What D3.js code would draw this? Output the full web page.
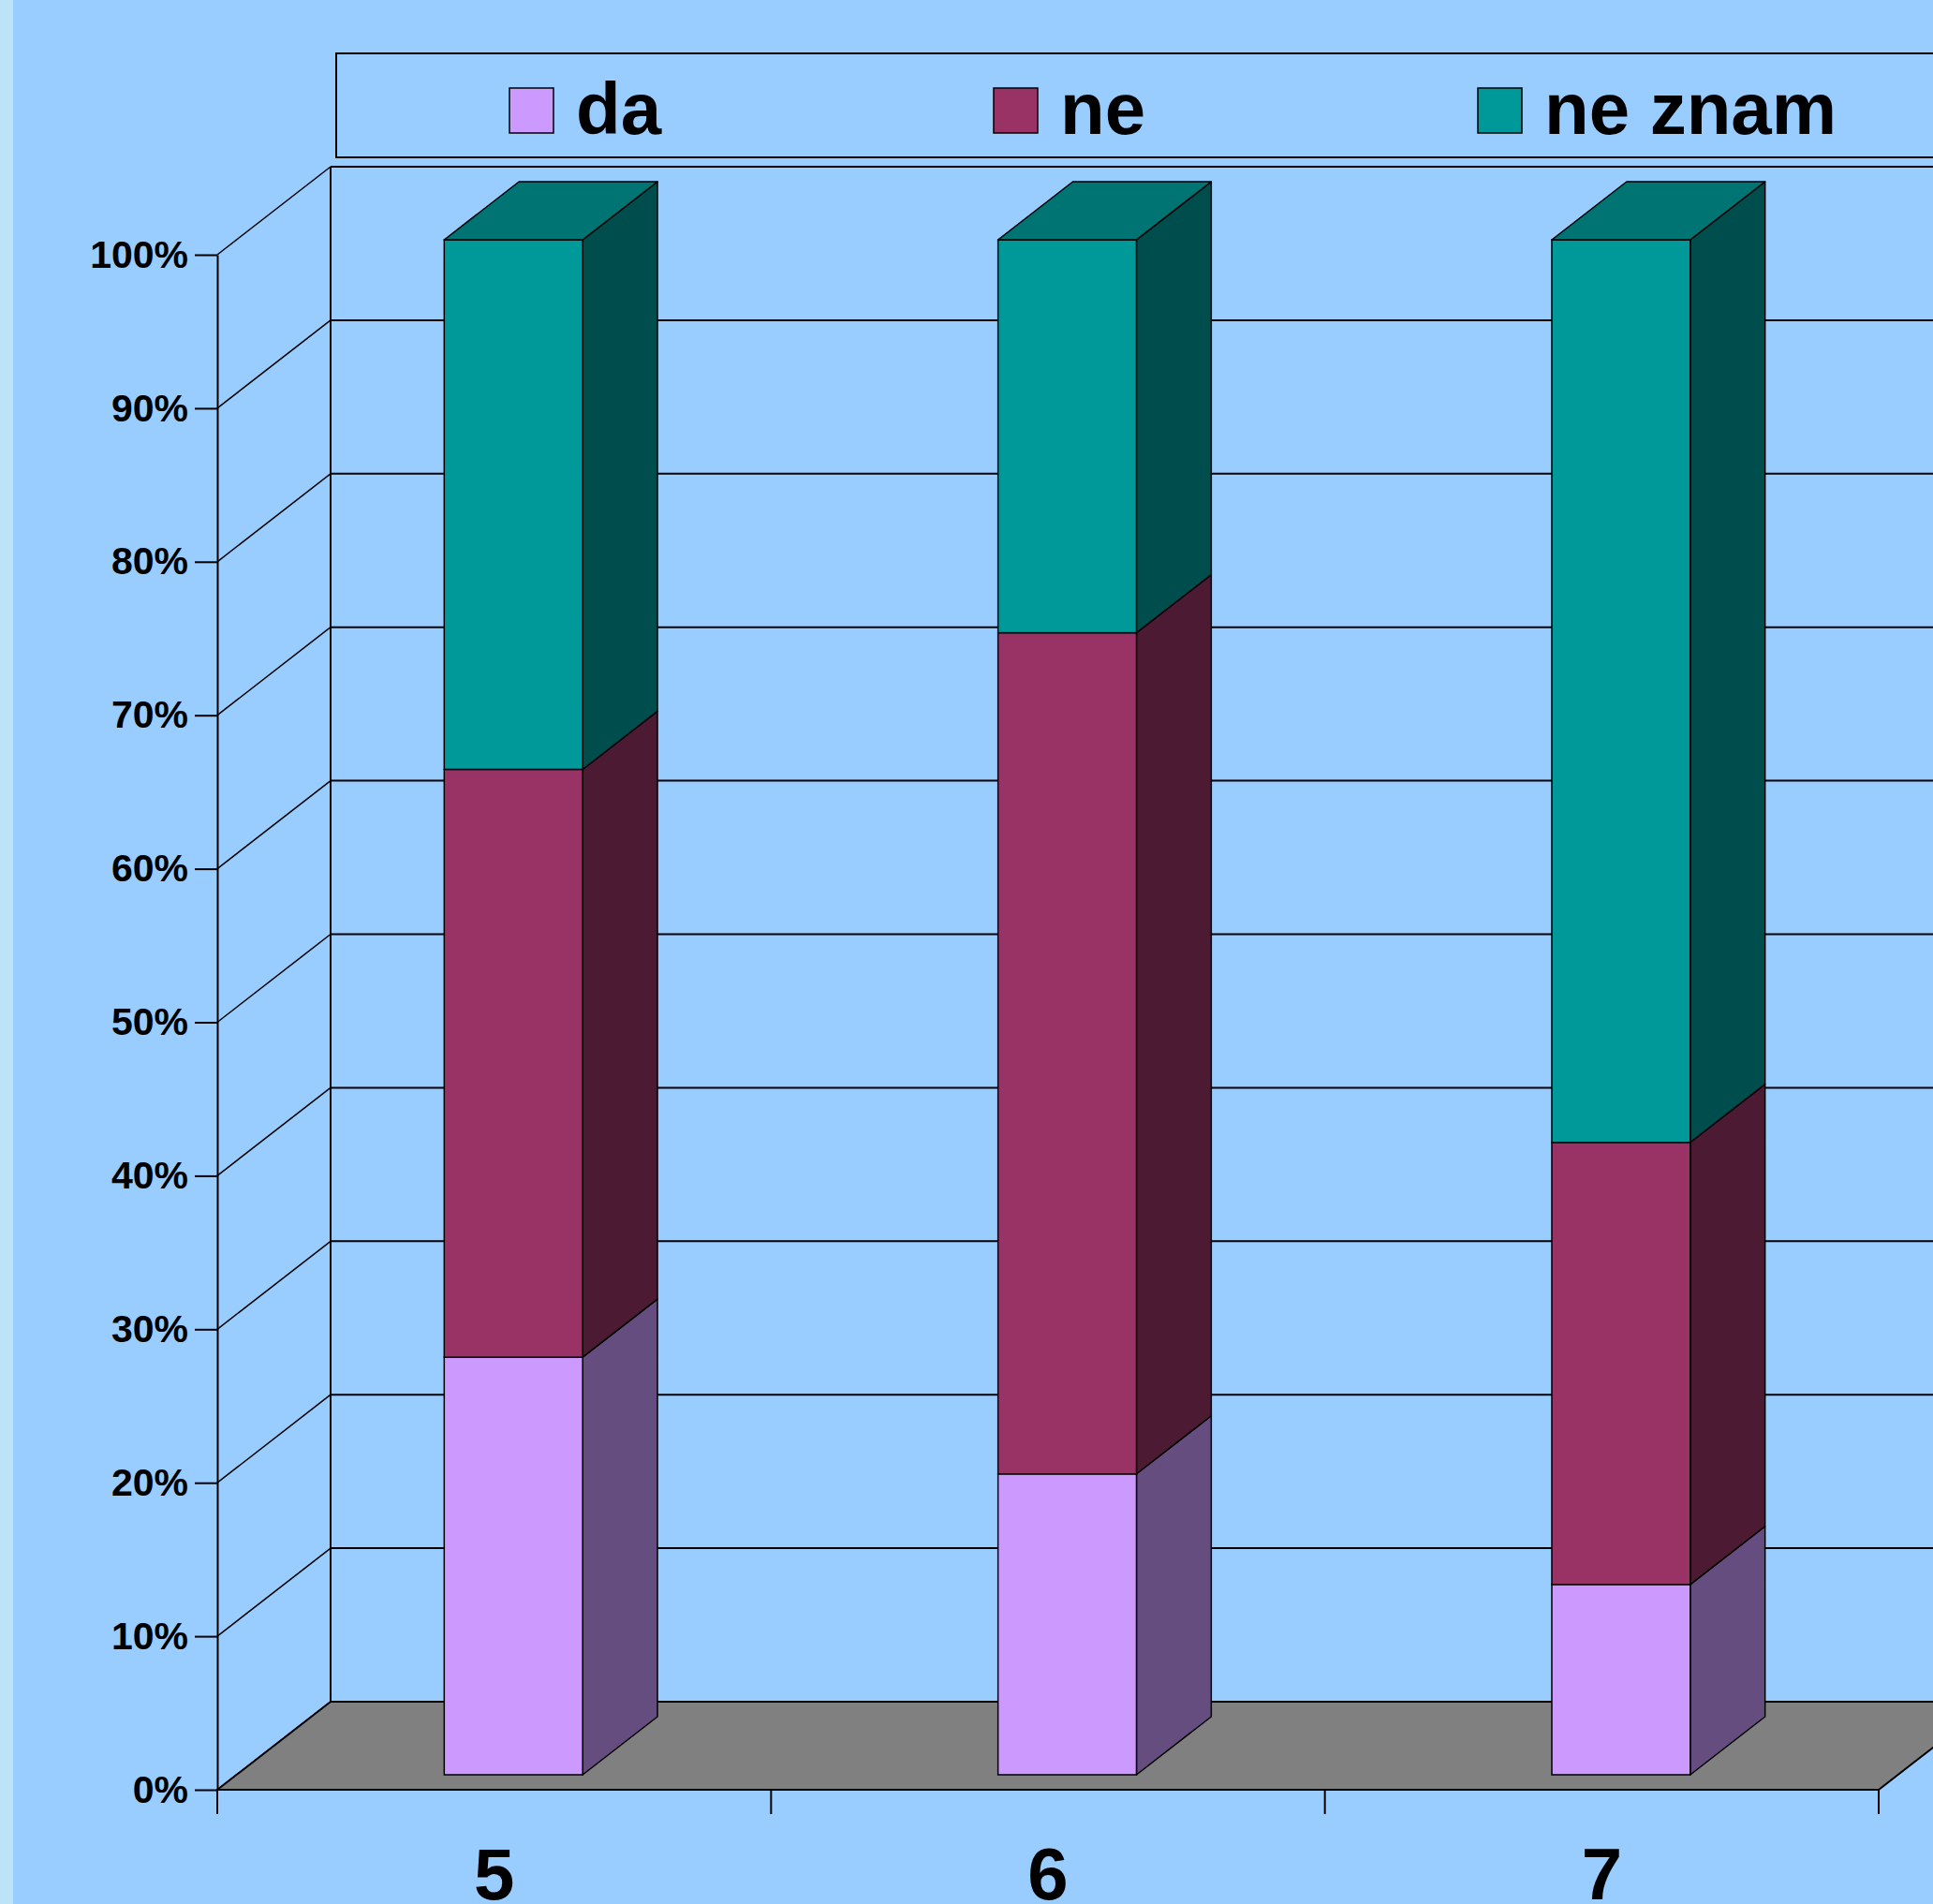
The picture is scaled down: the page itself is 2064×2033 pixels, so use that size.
<!DOCTYPE html>
<html>
<head>
<meta charset="utf-8">
<script src="https://cdn.jsdelivr.net/npm/d3@7"></script>
<style>
  body { margin: 0; background: #99ccff; }
  svg { display: block; }
  text { font-family: "Liberation Sans", Arial, sans-serif; font-weight: bold; fill: #000; }
</style>
</head>
<body>
<svg width="2064" height="2033"></svg>
<script>
// data (percent of answers per grade)
const categories = ['5', '6', '7'];
const seriesNames = ['da', 'ne', 'ne znam'];
const da = [27.2, 19.6, 12.4];
const ne = [38.3, 54.8, 28.8];
const neZnam = [34.5, 25.6, 58.8];
const yTicks = [0, 10, 20, 30, 40, 50, 60, 70, 80, 90, 100];
const seriesColors = ['#cc99ff', '#993366', '#009999'];

const rows = categories.map((c, i) => ({ cat: c, 'da': da[i], 'ne': ne[i], 'ne znam': neZnam[i] }));

const svg = d3.select('svg');

// oblique 3d offsets of the floor
const DX = 121;
const DY = 94;
const zFront = 0.17;
const zBack = 0.83;

const x = d3.scaleBand()
    .domain(categories)
    .range([232, 2006])
    .paddingInner(0.75)
    .paddingOuter(0.375);

const y = d3.scaleLinear()
    .domain([0, 100])
    .range([1911, 272]);

const px = (v, z) => v + DX * z;
const py = (v, z) => v - DY * z;

const shade = (c, k) => {
    const r = d3.rgb(c);
    return d3.rgb(r.r * k, r.g * k, r.b * k).formatHex();
};

// light strip at the left edge
svg.append('rect')
    .attr('x', 0).attr('y', 0)
    .attr('width', 14).attr('height', 2033)
    .attr('fill', '#bde3f7');

// legend
const legend = svg.append('g');
legend.append('rect')
    .attr('x', 359).attr('y', 57)
    .attr('width', 1800).attr('height', 111)
    .attr('fill', 'none')
    .attr('stroke', '#000')
    .attr('stroke-width', 2);

const legendX = d3.scalePoint().domain(seriesNames).range([544, 1578]);
const item = legend.selectAll('g.item')
    .data(seriesNames)
    .enter()
    .append('g')
    .attr('class', 'item')
    .attr('transform', (d) => `translate(${legendX(d)}, 94)`);

item.append('rect')
    .attr('width', 47).attr('height', 48)
    .attr('fill', (d, i) => seriesColors[i])
    .attr('stroke', '#000')
    .attr('stroke-width', 1.5);

item.append('text')
    .attr('x', 71)
    .attr('y', 49)
    .attr('font-size', 78)
    .text((d) => d);

const chart = svg.append('g');

// back wall top edge and horizontal grid lines
chart.selectAll('line.grid')
    .data(yTicks)
    .enter()
    .append('line')
    .attr('class', 'grid')
    .attr('x1', px(232, 1))
    .attr('x2', px(2006, 1))
    .attr('y1', (d) => py(y(d), 1))
    .attr('y2', (d) => py(y(d), 1))
    .attr('stroke', '#000')
    .attr('stroke-width', 2);

// side wall diagonals
chart.selectAll('line.diag')
    .data(yTicks)
    .enter()
    .append('line')
    .attr('class', 'diag')
    .attr('x1', 232)
    .attr('y1', (d) => y(d))
    .attr('x2', px(232, 1))
    .attr('y2', (d) => py(y(d), 1))
    .attr('stroke', '#000')
    .attr('stroke-width', 1.5);

// back wall left edge
chart.append('line')
    .attr('x1', px(232, 1)).attr('x2', px(232, 1))
    .attr('y1', py(y(100), 1)).attr('y2', py(y(0), 1))
    .attr('stroke', '#000')
    .attr('stroke-width', 2);

// floor
const floor = [[232, y(0)], [px(232, 1), py(y(0), 1)], [px(2006, 1), py(y(0), 1)], [2006, y(0)]];
chart.append('polygon')
    .attr('points', floor.map((p) => p.join(',')).join(' '))
    .attr('fill', '#808080')
    .attr('stroke', '#000')
    .attr('stroke-width', 2);

// value axis
const yAxis = chart.append('g')
    .attr('transform', 'translate(232, 0)')
    .call(d3.axisLeft(y)
        .tickValues(yTicks)
        .tickFormat((d) => d + '%')
        .tickSize(24)
        .tickSizeOuter(0)
        .tickPadding(7));
yAxis.select('.domain').attr('stroke', '#000').attr('stroke-width', 2);
yAxis.selectAll('.tick line').attr('stroke', '#000').attr('stroke-width', 2);
yAxis.selectAll('.tick text')
    .attr('font-size', 41)
    .attr('font-family', '"Liberation Sans", Arial, sans-serif')
    .attr('font-weight', 'bold')
    .attr('fill', '#000');

// category axis: ticks sit between the categories
const tickXs = [232].concat(categories.map((c) => x(c) + x.bandwidth() / 2 + x.step() / 2));
chart.selectAll('line.xtick')
    .data(tickXs)
    .enter()
    .append('line')
    .attr('class', 'xtick')
    .attr('x1', (d) => d).attr('x2', (d) => d)
    .attr('y1', y(0)).attr('y2', y(0) + 26)
    .attr('stroke', '#000')
    .attr('stroke-width', 2);

const xAxis = chart.append('g')
    .attr('transform', `translate(0, ${y(0)})`)
    .call(d3.axisBottom(x).tickSize(0));
xAxis.select('.domain').remove();
xAxis.selectAll('.tick text')
    .attr('font-size', 78)
    .attr('font-family', '"Liberation Sans", Arial, sans-serif')
    .attr('font-weight', 'bold')
    .attr('fill', '#000')
    .attr('dy', null)
    .attr('y', 117);

// stacked 3d bars
const stacked = d3.stack().keys(seriesNames)(rows);
const bw = x.bandwidth();

const pts = (arr) => arr.map((p) => p.join(',')).join(' ');

categories.forEach((cat, ci) => {
    const g = chart.append('g').attr('class', 'bar');
    const x0 = x(cat);
    stacked.forEach((layer, si) => {
        const [v0, v1] = layer[ci];
        const col = seriesColors[si];
        // side face
        g.append('polygon')
            .attr('points', pts([
                [px(x0 + bw, zFront), py(y(v1), zFront)],
                [px(x0 + bw, zBack), py(y(v1), zBack)],
                [px(x0 + bw, zBack), py(y(v0), zBack)],
                [px(x0 + bw, zFront), py(y(v0), zFront)]
            ]))
            .attr('fill', shade(col, 0.5))
            .attr('stroke', '#000')
            .attr('stroke-width', 1.5)
            .attr('stroke-linejoin', 'round');
        // front face
        g.append('rect')
            .attr('x', px(x0, zFront))
            .attr('y', py(y(v1), zFront))
            .attr('width', bw)
            .attr('height', y(v0) - y(v1))
            .attr('fill', col)
            .attr('stroke', '#000')
            .attr('stroke-width', 1.5);
        // top face on the last segment
        if (si === stacked.length - 1) {
            g.append('polygon')
                .attr('points', pts([
                    [px(x0, zFront), py(y(v1), zFront)],
                    [px(x0 + bw, zFront), py(y(v1), zFront)],
                    [px(x0 + bw, zBack), py(y(v1), zBack)],
                    [px(x0, zBack), py(y(v1), zBack)]
                ]))
                .attr('fill', shade(col, 0.75))
                .attr('stroke', '#000')
                .attr('stroke-width', 1.5)
                .attr('stroke-linejoin', 'round');
        }
    });
});
</script>
</body>
</html>
